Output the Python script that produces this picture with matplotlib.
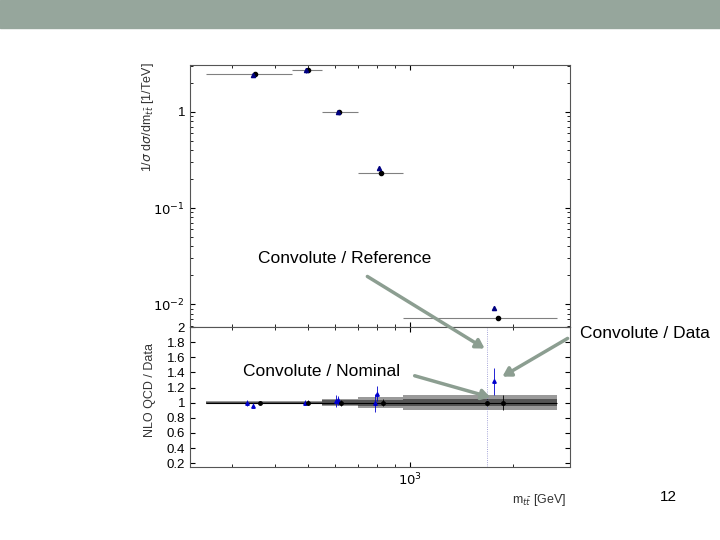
import numpy as np
import matplotlib.pyplot as plt
from matplotlib.patches import Rectangle, FancyArrowPatch

plt.rcParams['font.family'] = ['Liberation Sans', 'DejaVu Sans']

# bin edges [GeV] and central values
edges = [250, 450, 550, 700, 950, 2700]
x_pts = [350, 500, 618, 820, 1815]
y_black = [2.46, 2.72, 1.0, 0.23, 0.0072]
x_blue = [345, 495, 612, 810, 1765]
y_blue = [2.40, 2.70, 1.0, 0.26, 0.0091]

# ratio panel
band_outer = [0.02, 0.02, 0.05, 0.075, 0.10]
band_inner = [0.015, 0.015, 0.03, 0.04, 0.05]
r_x = [330, 345, 362, 490, 500, 605, 615, 625, 790, 800, 830, 1680, 1765, 1880]
r_y = [1.0, 0.96, 1.0, 1.0, 1.0, 1.02, 1.03, 1.0, 1.0, 1.12, 1.0, 1.0, 1.28, 1.0]
r_err = [0.04, 0.03, 0.02, 0.03, 0.03, 0.08, 0.06, 0.04, 0.12, 0.1, 0.05, 0.05, 0.18, 0.1]
r_black = [False, False, True, False, True, False, False, True, False, False, True, True, False, True]

fig = plt.figure(figsize=(7.2, 5.4), dpi=100)
W, H = 720, 540
arrow_c = (0.55, 0.62, 0.57)

fig.patches.append(Rectangle((0, 1 - 28 / H), 1, 28 / H, transform=fig.transFigure,
                             color=(0.59, 0.65, 0.61), zorder=0))

ax1 = fig.add_axes([190 / W, 1 - 327 / H, 380 / W, 262 / H])
ax2 = fig.add_axes([190 / W, 1 - 467 / H, 380 / W, 140 / H], sharex=ax1)

for ax in (ax1, ax2):
    ax.set_xscale('log')
    ax.set_xlim(225, 2950)
    ax.tick_params(which='both', direction='in', top=True, right=True, labelsize=9.5)
    for s in ax.spines.values():
        s.set_color('#555555')

for i in range(len(x_pts)):
    ax1.hlines(y_black[i], edges[i], edges[i + 1], color='gray', lw=0.8)
ax1.errorbar(x_blue, y_blue, yerr=np.array(y_blue) * 0.05, fmt='^', color='navy', ms=3, lw=0.6)
ax1.plot(x_pts, y_black, 'o', color='black', ms=3)
ax1.set_yscale('log')
ax1.set_ylim(0.0058, 3.07)
ax1.set_yticks([0.01, 0.1, 1])
ax1.set_yticklabels(['$10^{-2}$', '$10^{-1}$', '1'])
ax1.set_ylabel(r'1/$\sigma$ d$\sigma$/dm$_{t\bar{t}}$ [1/TeV]', fontsize=9, color='#333333')
ax1.yaxis.set_label_coords(-0.09, 0.8)
plt.setp(ax1.get_xticklabels(), visible=False)

for i in range(len(band_outer)):
    ax2.fill_between([edges[i], edges[i + 1]], 1 - band_outer[i], 1 + band_outer[i],
                     color='#9a9a9a', lw=0)
    ax2.fill_between([edges[i], edges[i + 1]], 1 - band_inner[i], 1 + band_inner[i],
                     color='#555555', lw=0)
ax2.hlines(1, edges[0], edges[-1], color='black', lw=0.8)
for xv, yv, ev, b in zip(r_x, r_y, r_err, r_black):
    ax2.errorbar(xv, yv, yerr=ev, fmt='o' if b else '^', color='black' if b else 'mediumblue',
                 ms=2.5, lw=0.6, elinewidth=0.6)
ax2.axvline(1685, color='#8888cc', lw=0.6, ls=':')
ax2.set_ylim(0.15, 2.0)
ax2.set_yticks([0.2, 0.4, 0.6, 0.8, 1, 1.2, 1.4, 1.6, 1.8, 2])
ax2.set_yticklabels(['0.2', '0.4', '0.6', '0.8', '1', '1.2', '1.4', '1.6', '1.8', '2'])
ax2.set_xticks([1000])
ax2.set_xticklabels(['$10^3$'])
ax2.set_ylabel('NLO QCD / Data', fontsize=9, color='#333333')
ax2.yaxis.set_label_coords(-0.09, 0.55)
ax2.set_xlabel(r'm$_{t\bar{t}}$ [GeV]', fontsize=9, color='#333333')
ax2.xaxis.set_label_coords(0.92, -0.18)


def fx(p):
    return p / W


def fy(p):
    return 1 - p / H


fig.text(fx(258), fy(258), 'Convolute / Reference', fontsize=12.5, va='center')
fig.text(fx(710), fy(334), 'Convolute / Data', fontsize=12.5, va='center', ha='right')
fig.text(fx(243), fy(371), 'Convolute / Nominal', fontsize=12.5, va='center')
fig.text(fx(668), fy(497), '12', fontsize=11, va='center', ha='center')

for (x0, y0), (x1, y1) in [((365, 275), (487, 350)), ((570, 337), (500, 378)),
                           ((412, 375), (493, 398))]:
    fig.patches.append(FancyArrowPatch(
        (fx(x0), fy(y0)), (fx(x1), fy(y1)), transform=fig.transFigure,
        arrowstyle='-|>,head_length=5,head_width=3', color=arrow_c, lw=2.5, zorder=10))

fig.savefig('out.png', dpi=100)
